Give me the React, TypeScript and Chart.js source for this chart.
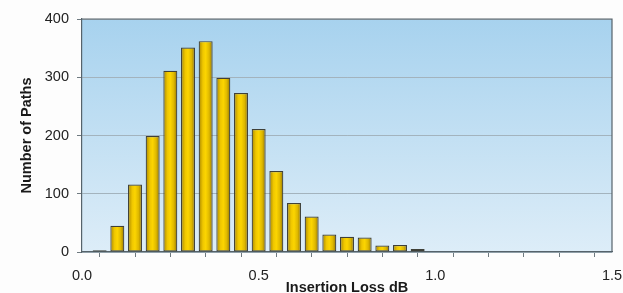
import React, { useEffect, useRef } from "react";
import { Chart, registerables } from "chart.js";

Chart.register(...registerables);

const lossBins: number[] = [0.0, 0.05, 0.1, 0.15, 0.2, 0.25, 0.3, 0.35, 0.4, 0.45, 0.5, 0.55, 0.6, 0.65, 0.7, 0.75, 0.8, 0.85, 0.9, 0.95];
const pathCounts: number[] = [1, 3, 45, 116, 199, 311, 351, 362, 299, 273, 211, 139, 84, 61, 30, 26, 25, 11, 12, 5];
const xAxisTitle = "Insertion Loss dB";
const yAxisTitle = "Number of Paths";

const FONT = "'Liberation Sans', Arial, Helvetica, sans-serif";

const plotBgPlugin = {
  id: "plotBg",
  beforeDraw(chart: any) {
    const { ctx, chartArea } = chart;
    if (!chartArea) return;
    const g = ctx.createLinearGradient(0, chartArea.top, 0, chartArea.bottom);
    g.addColorStop(0, "#a7d2ee");
    g.addColorStop(1, "#ddedf8");
    ctx.save();
    ctx.fillStyle = g;
    ctx.fillRect(chartArea.left, chartArea.top, chartArea.right - chartArea.left, chartArea.bottom - chartArea.top);
    ctx.restore();
  },
  afterDraw(chart: any) {
    const { ctx, chartArea } = chart;
    if (!chartArea) return;
    ctx.save();
    ctx.strokeStyle = "#56636b";
    ctx.lineWidth = 1.2;
    ctx.beginPath();
    ctx.moveTo(chartArea.left, chartArea.top);
    ctx.lineTo(chartArea.right, chartArea.top);
    ctx.lineTo(chartArea.right, chartArea.bottom);
    ctx.stroke();
    ctx.restore();
  },
};

export default function App() {
  const ref = useRef<HTMLCanvasElement | null>(null);

  useEffect(() => {
    if (!ref.current) return;
    const data = lossBins.map((x, i) => ({ x, y: pathCounts[i] }));
    const chart = new Chart(ref.current, {
      type: "bar",
      data: {
        datasets: [
          {
            data,
            borderColor: "#3f4038",
            borderWidth: 1.2,
            borderSkipped: false,
            categoryPercentage: 1,
            barPercentage: 0.79,
            clip: 0,
            backgroundColor: (c: any) => {
              const chart = c.chart;
              const xs = chart.scales?.x;
              if (c.type !== "data" || !xs || !chart.chartArea) return "#f0c800";
              const px = xs.getPixelForValue(c.raw.x);
              const half = ((xs.getPixelForValue(0.05) - xs.getPixelForValue(0)) * 0.79) / 2;
              const g = chart.ctx.createLinearGradient(px - half, 0, px + half, 0);
              g.addColorStop(0, "#a88600");
              g.addColorStop(0.3, "#efc700");
              g.addColorStop(0.5, "#fcd500");
              g.addColorStop(0.75, "#deb800");
              g.addColorStop(1, "#947400");
              return g;
            },
          } as any,
        ],
      },
      options: {
        animation: false,
        responsive: false,
        devicePixelRatio: 1,
        layout: { padding: { top: 19, right: 11, bottom: 0, left: 0 } },
        plugins: { legend: { display: false }, tooltip: { enabled: false } },
        scales: {
          x: {
            type: "linear",
            min: 0,
            max: 1.5,
            offset: false,
            afterFit: (s: any) => {
              s.height = 41;
              s.paddingLeft = 0;
              s.paddingRight = 0;
            },
            ticks: {
              stepSize: 0.1,
              autoSkip: false,
              maxRotation: 0,
              padding: 10,
              color: "#222222",
              font: { family: FONT, size: 14.5 },
              callback: (v: any) => {
                const n = Number(v);
                return Math.abs(n * 2 - Math.round(n * 2)) < 1e-6 ? n.toFixed(1) : "";
              },
            },
            grid: { drawOnChartArea: false, drawTicks: true, tickLength: 5, color: "#6f7a80" },
            border: { color: "#56636b", width: 1.2 },
            title: {
              display: true,
              text: xAxisTitle,
              color: "#1a1a1a",
              font: { family: FONT, size: 14.5, weight: "bold", lineHeight: 1 },
              padding: { top: 0, bottom: -2 },
            },
          },
          y: {
            type: "linear",
            min: 0,
            max: 400,
            afterFit: (s: any) => {
              s.width = 82;
            },
            ticks: {
              stepSize: 100,
              padding: 8,
              color: "#222222",
              font: { family: FONT, size: 14.5 },
            },
            grid: { drawTicks: true, tickLength: 5, color: "#a3b3bd", tickColor: "#6f7a80" },
            border: { color: "#56636b", width: 1.2 },
            title: {
              display: true,
              text: yAxisTitle,
              color: "#1a1a1a",
              font: { family: FONT, size: 14.5, weight: "bold" },
              padding: { top: 18, bottom: 0 },
            },
          },
        },
      },
      plugins: [plotBgPlugin],
    } as any);
    return () => chart.destroy();
  }, []);

  return (
    <div style={{ position: "fixed", left: 0, top: 0, width: 623, height: 293, background: "#fdfdfd" }}>
      <canvas ref={ref} width={623} height={293} style={{ display: "block" }} />
    </div>
  );
}
